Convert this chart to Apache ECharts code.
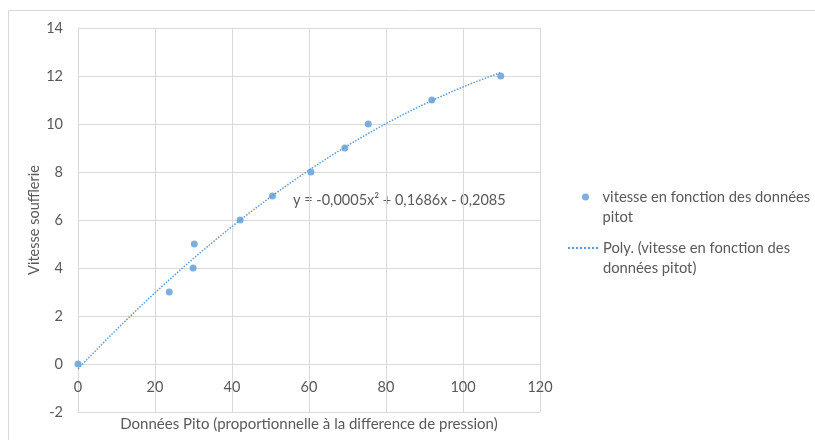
<!DOCTYPE html>
<html><head><meta charset="utf-8">
<script src="https://cdn.jsdelivr.net/npm/echarts@6/dist/echarts.min.js"></script>
<style>html,body{margin:0;padding:0;background:#fff}#c{width:815px;height:440px}</style>
</head><body><div id="c"></div>
<script>
// ---- data ----
const pitotValues = [0, 23.7, 29.9, 30.2, 42.1, 50.5, 60.5, 69.3, 75.4, 91.9, 109.8];
const vitesseValues = [0, 3, 4, 5, 6, 7, 8, 9, 10, 11, 12];
const xTickValues = [0, 20, 40, 60, 80, 100, 120];
const yTickValues = [-2, 0, 2, 4, 6, 8, 10, 12, 14];
const scatterName = 'vitesse en fonction des données pitot';
const trendName = 'Poly. (vitesse en fonction des données pitot)';
const scatterLegendLines = ['vitesse en fonction des données', 'pitot'];
const trendLegendLines = ['Poly. (vitesse en fonction des', 'données pitot)'];
const equationText = 'y = -0,0005x² + 0,1686x - 0,2085';
const xTitle = 'Données Pito (proportionnelle à la difference de pression)';
const yTitle = 'Vitesse soufflerie';

// ---- least-squares quadratic fit (Excel polynomial trendline, order 2) ----
function quadFit(xs, ys) {
  let S = [0,0,0,0,0], T = [0,0,0];
  for (let i = 0; i < xs.length; i++) {
    let p = 1;
    for (let k = 0; k < 5; k++) { S[k] += p; if (k < 3) T[k] += p * ys[i]; p *= xs[i]; }
  }
  const A = [[S[0],S[1],S[2],T[0]],[S[1],S[2],S[3],T[1]],[S[2],S[3],S[4],T[2]]];
  for (let c = 0; c < 3; c++) {
    for (let r = c + 1; r < 3; r++) {
      const f = A[r][c] / A[c][c];
      for (let k = c; k < 4; k++) A[r][k] -= f * A[c][k];
    }
  }
  const sol = [0,0,0];
  for (let r = 2; r >= 0; r--) {
    let s = A[r][3];
    for (let k = r + 1; k < 3; k++) s -= A[r][k] * sol[k];
    sol[r] = s / A[r][r];
  }
  return sol; // a0 + a1 x + a2 x^2
}
const coef = quadFit(pitotValues, vitesseValues);
const xMinData = Math.min(...pitotValues), xMaxData = Math.max(...pitotValues);
const trendPoints = [];
const nSteps = 80;
for (let i = 0; i <= nSteps; i++) {
  const x = xMinData + (xMaxData - xMinData) * i / nSteps;
  trendPoints.push([x, coef[0] + coef[1] * x + coef[2] * x * x]);
}

const FONT = 'Lato, "Open Sans", sans-serif';
const FS = 14.5;
const FS_L = 14.75;
const TXT = '#595959';
const GRID = '#d9d9d9';
const BLUE = '#5B9BD5';
const GRID_H = 384;
const yMin = yTickValues[0], yMax = yTickValues[yTickValues.length - 1];
// horizontal axis crosses the vertical axis at 0 (as in the source chart)
const xAxisOffset = -((0 - yMin) / (yMax - yMin)) * GRID_H;

const chart = echarts.init(document.getElementById('c'), null, {renderer: 'canvas'});
chart.setOption({
  animation: false,
  backgroundColor: '#fff',
  textStyle: {fontFamily: FONT},
  grid: {left: 78, top: 28, width: 462, height: GRID_H, containLabel: false, outerBoundsMode: 'none'},
  xAxis: {
    type: 'value', min: xTickValues[0], max: xTickValues[xTickValues.length - 1], interval: 20,
    position: 'bottom', offset: xAxisOffset,
    name: xTitle, nameLocation: 'middle', nameGap: 53, nameMoveOverlap: false,
    nameTextStyle: {color: TXT, fontSize: 15, fontFamily: FONT},
    axisLine: {show: true, onZero: false, lineStyle: {color: GRID, width: 1}},
    axisTick: {show: false},
    axisLabel: {color: TXT, fontSize: FS, fontFamily: FONT, margin: 16},
    splitLine: {show: true, lineStyle: {color: GRID, width: 1}}
  },
  yAxis: {
    type: 'value', min: yMin, max: yMax, interval: 2,
    name: yTitle, nameLocation: 'middle', nameGap: 36, nameRotate: 90, nameMoveOverlap: false,
    nameTextStyle: {color: TXT, fontSize: FS, fontFamily: FONT},
    axisLine: {show: true, onZero: false, lineStyle: {color: GRID, width: 1}},
    axisTick: {show: false},
    axisLabel: {color: TXT, fontSize: FS, fontFamily: FONT, margin: 15},
    splitLine: {show: true, lineStyle: {color: GRID, width: 1}}
  },
  legend: [
    {
      data: [scatterName], orient: 'vertical', left: 577, top: 162, padding: 5,
      icon: 'circle', itemWidth: 24, itemHeight: 7,
      formatter: () => '\n' + scatterLegendLines.join('\n'),
      textStyle: {color: TXT, fontSize: FS_L, fontFamily: FONT, lineHeight: 20}
    },
    {
      data: [trendName], orient: 'vertical', left: 562, top: 213, padding: 5,
      itemWidth: 30, itemHeight: 7,
      itemStyle: {color: 'rgba(0,0,0,0)', borderWidth: 0},
      formatter: () => '\n' + trendLegendLines.join('\n'),
      textStyle: {color: TXT, fontSize: FS_L, fontFamily: FONT, lineHeight: 20}
    }
  ],
  graphic: [
    {type: 'rect', silent: true, z: -1, shape: {x: 8.5, y: 10.5, width: 900, height: 500},
     style: {fill: null, stroke: GRID, lineWidth: 1}},
    {type: 'text', x: 293, y: 200, silent: true,
     style: {text: equationText, fill: TXT, font: FS + 'px ' + FONT, verticalAlign: 'middle', align: 'left'}}
  ],
  series: [
    {
      name: trendName, type: 'line', data: trendPoints, showSymbol: false, symbol: 'none',
      smooth: false, z: 2,
      lineStyle: {color: BLUE, width: 1.5, type: 'dotted'},
      itemStyle: {color: BLUE}
    },
    {
      name: scatterName, type: 'scatter', z: 3,
      data: pitotValues.map((x, i) => [x, vitesseValues[i]]),
      symbol: 'circle', symbolSize: 7,
      itemStyle: {color: BLUE}
    }
  ]
});
</script>
</body></html>
